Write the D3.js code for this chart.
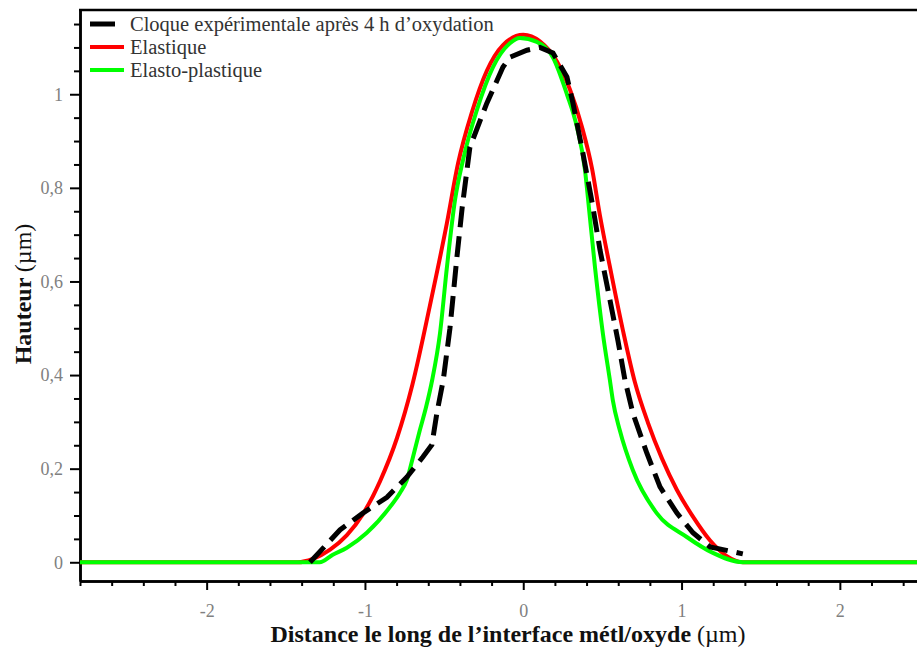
<!DOCTYPE html>
<html>
<head>
<meta charset="utf-8">
<script src="https://cdn.jsdelivr.net/npm/d3@7"></script>
<style>
  html, body { margin: 0; padding: 0; background: #fff; }
  svg { display: block; font-family: "Liberation Serif", "DejaVu Serif", serif; }
</style>
</head>
<body>
<svg id="chart" width="917" height="650"></svg>
<script>
// Blister profile: measured height vs. two simulated profiles (µm)
const expX = [-1.347, -1.158, -1.013, -0.861, -0.735, -0.634, -0.577, -0.545, -0.505, -0.463, -0.419, -0.385, -0.337, -0.23, -0.128, -0.084, 0.023, 0.105, 0.188, 0.276, 0.314, 0.377, 0.437, 0.485, 0.548, 0.598, 0.642, 0.693, 0.781, 0.864, 0.971, 1.072, 1.18, 1.387];
const expY = [0, 0.069, 0.105, 0.139, 0.182, 0.225, 0.251, 0.32, 0.39, 0.5, 0.652, 0.76, 0.887, 0.981, 1.058, 1.079, 1.094, 1.1, 1.088, 1.037, 0.981, 0.874, 0.765, 0.667, 0.56, 0.474, 0.39, 0.318, 0.233, 0.161, 0.105, 0.063, 0.033, 0.018];

const elaX = [-2.8, -1.424, -1.33, -1.22, -1.114, -1.013, -0.905, -0.798, -0.70, -0.59, -0.482, -0.412, -0.324, -0.23, -0.128, 0.0, 0.105, 0.213, 0.295, 0.371, 0.434, 0.484, 0.547, 0.63, 0.705, 0.788, 0.876, 0.97, 1.071, 1.179, 1.286, 1.387, 2.5];
const elaY = [0, 0, 0.007, 0.027, 0.058, 0.103, 0.173, 0.265, 0.38, 0.548, 0.725, 0.852, 0.962, 1.05, 1.105, 1.127, 1.113, 1.07, 1.01, 0.93, 0.842, 0.742, 0.632, 0.495, 0.385, 0.298, 0.222, 0.155, 0.098, 0.047, 0.013, 0, 0];

const plaX = [-2.8, -1.286, -1.203, -1.114, -0.988, -0.842, -0.779, -0.735, -0.70, -0.655, -0.615, -0.575, -0.526, -0.482, -0.431, -0.38, -0.293, -0.191, -0.084, -0.021, 0.086, 0.187, 0.276, 0.339, 0.39, 0.41, 0.453, 0.503, 0.547, 0.566, 0.61, 0.692, 0.843, 1.033, 1.198, 1.387, 2.5];
const plaY = [0, 0, 0.016, 0.031, 0.063, 0.118, 0.148, 0.176, 0.22, 0.28, 0.33, 0.39, 0.489, 0.631, 0.774, 0.86, 0.966, 1.058, 1.109, 1.12, 1.112, 1.079, 1.0, 0.93, 0.838, 0.774, 0.631, 0.489, 0.39, 0.346, 0.282, 0.197, 0.105, 0.054, 0.02, 0, 0];

const xMajor = [-2, -1, 0, 1, 2];
const xTickLabels = ["-2", "-1", "0", "1", "2"];
const yMajor = [0, 0.2, 0.4, 0.6, 0.8, 1];
const yTickLabels = ["0", "0,2", "0,4", "0,6", "0,8", "1"];

const seriesNames = ["Cloque expérimentale après 4 h d’oxydation", "Elastique", "Elasto-plastique"];
const seriesColors = ["#000000", "#ff0000", "#00ff00"];

const svg = d3.select("#chart");
const mLeft = 80, mRight = 919, mTop = 10, mBottom = 581;

const x = d3.scaleLinear().domain([-2.8, 2.5]).range([mLeft, mRight]);
const y = d3.scaleLinear().domain([-0.04, 1.18]).range([mBottom, mTop]);

svg.append("rect").attr("width", 917).attr("height", 650).attr("fill", "#fff");

svg.append("defs").append("clipPath").attr("id", "plot")
  .append("rect").attr("x", mLeft).attr("y", mTop).attr("width", mRight - mLeft).attr("height", mBottom - mTop);

// minor ticks
const xMinor = d3.range(-2.8, 2.45, 0.2).map(v => +v.toFixed(2)).filter(v => Math.abs(v - Math.round(v)) > 1e-6);
const yMinor = d3.range(0.05, 1.16, 0.05).map(v => +v.toFixed(2)).filter(v => Math.abs(v * 5 - Math.round(v * 5)) > 1e-6);

const gxMinor = svg.append("g").attr("transform", `translate(0,${mBottom})`)
  .call(d3.axisBottom(x).tickValues(xMinor).tickSize(5).tickSizeOuter(0).tickFormat(""));
const gyMinor = svg.append("g").attr("transform", `translate(${mLeft},0)`)
  .call(d3.axisLeft(y).tickValues(yMinor).tickSize(6).tickSizeOuter(0).tickFormat(""));

const gx = svg.append("g").attr("transform", `translate(0,${mBottom})`)
  .call(d3.axisBottom(x).tickValues(xMajor).tickSize(9).tickSizeOuter(0)
    .tickFormat((d, i) => xTickLabels[i]));
const gy = svg.append("g").attr("transform", `translate(${mLeft},0)`)
  .call(d3.axisLeft(y).tickValues(yMajor).tickSize(10).tickSizeOuter(0)
    .tickFormat((d, i) => yTickLabels[i]));

[gxMinor, gyMinor, gx, gy].forEach(g => {
  g.select(".domain").attr("stroke", "#000").attr("stroke-width", 2.5);
  g.selectAll(".tick line").attr("stroke", "#000").attr("stroke-width", 2);
});
gx.selectAll(".tick text").attr("y", 36).attr("dy", 0)
  .attr("font-size", 18).attr("fill", "#808080").attr("font-family", "Liberation Serif");
gy.selectAll(".tick text").attr("x", -17).attr("dy", "0.32em")
  .attr("font-size", 18).attr("fill", "#808080").attr("font-family", "Liberation Serif");

// top frame line
svg.append("line").attr("x1", mLeft - 1).attr("x2", 917).attr("y1", mTop).attr("y2", mTop)
  .attr("stroke", "#000").attr("stroke-width", 2.5);

const line = d3.line().x(d => x(d[0])).y(d => y(d[1]));
const plot = svg.append("g").attr("clip-path", "url(#plot)");

plot.append("path").datum(d3.zip(elaX, elaY))
  .attr("d", line.curve(d3.curveMonotoneX)).attr("fill", "none")
  .attr("stroke", seriesColors[1]).attr("stroke-width", 4).attr("stroke-linejoin", "round");
plot.append("path").datum(d3.zip(plaX, plaY))
  .attr("d", line.curve(d3.curveMonotoneX)).attr("fill", "none")
  .attr("stroke", seriesColors[2]).attr("stroke-width", 4).attr("stroke-linejoin", "round");
plot.append("path").datum(d3.zip(expX, expY))
  .attr("d", line.curve(d3.curveLinear)).attr("fill", "none")
  .attr("stroke", seriesColors[0]).attr("stroke-width", 5).attr("stroke-dasharray", "21,9");

// legend
const legend = svg.append("g");
seriesNames.forEach((name, i) => {
  const ly = 24 + i * 23;
  legend.append("line").attr("x1", 90).attr("x2", i === 0 ? 115 : 124).attr("y1", ly).attr("y2", ly)
    .attr("stroke", seriesColors[i]).attr("stroke-width", i === 0 ? 5 : 4);
  legend.append("text").attr("x", 130).attr("y", ly).attr("dy", "0.33em")
    .attr("font-size", 20.5).attr("fill", "#333").text(name);
});

// axis titles
const xt = svg.append("text").attr("x", 508).attr("y", 642).attr("text-anchor", "middle")
  .attr("font-size", 24).attr("fill", "#111");
xt.append("tspan").attr("font-weight", "bold").text("Distance le long de l’interface métl/oxyde ");
xt.append("tspan").text("(µm)");

const yt = svg.append("text").attr("transform", "translate(31,294) rotate(-90)").attr("text-anchor", "middle")
  .attr("font-size", 24).attr("fill", "#111");
yt.append("tspan").attr("font-weight", "bold").text("Hauteur ");
yt.append("tspan").text("(µm)");
</script>
</body>
</html>
